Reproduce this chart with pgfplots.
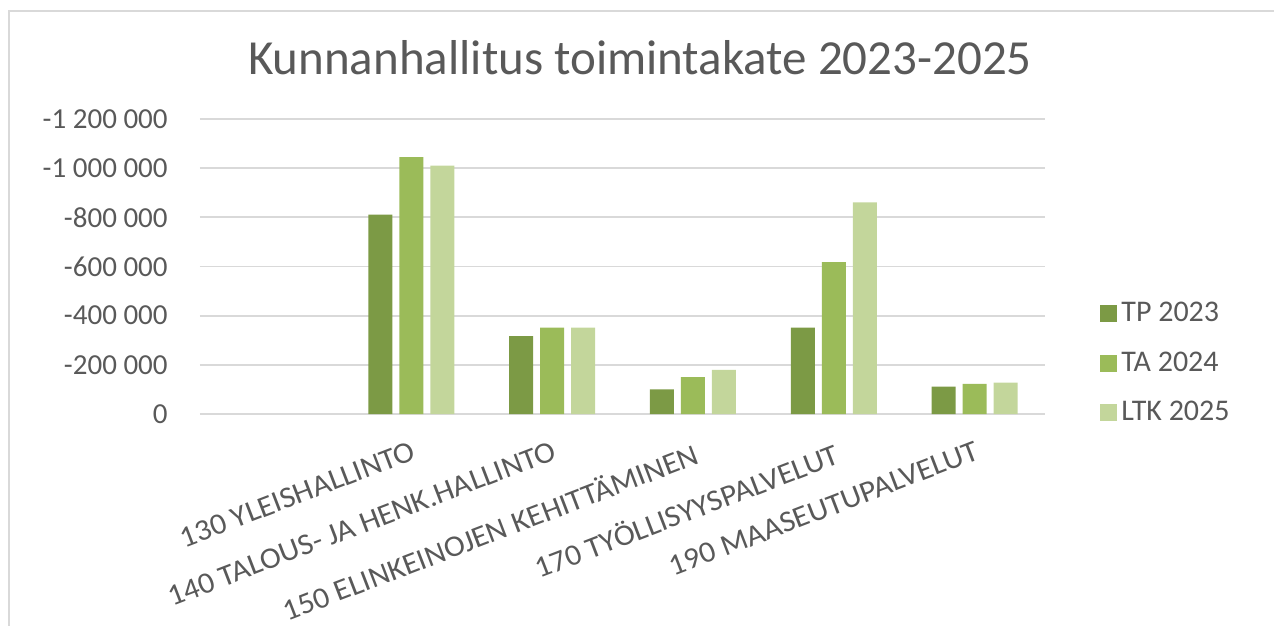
\documentclass[border=0pt]{standalone}
\usepackage{pgfplots}
\pgfplotsset{compat=1.18}
\usepackage{fontspec}
\setmainfont{Carlito}
\newfontfamily\xlab{Carlito}[FakeStretch=1.05]
\definecolor{tp}{HTML}{7C9A45}
\definecolor{ta}{HTML}{9BBB59}
\definecolor{ltk}{HTML}{C3D69B}
\definecolor{txt}{HTML}{595959}
\definecolor{grd}{HTML}{D9D9D9}
\begin{document}
\begin{tikzpicture}
\path[use as bounding box] (-100pt,-106pt) rectangle (537pt,207pt);
\draw[color=grd, line width=1pt] (-95.5pt,-106pt) -- (-95.5pt,201.5pt) -- (537pt,201.5pt);
\begin{axis}[
  scale only axis, width=422.5pt, height=147.5pt,
  at={(0,0)}, anchor=south west,
  ybar=3.5pt, bar width=12pt,
  xmin=-0.5, xmax=5.5,
  ymin=-1200000, ymax=0, y dir=reverse,
  scaled y ticks=false,
  axis line style={draw=none},
  major tick length=0pt,
  ymajorgrids, grid style={color=grd, line width=0.9pt},
  ytick={0,-200000,-400000,-600000,-800000,-1000000,-1200000},
  yticklabels={0,-200 000,-400 000,-600 000,-800 000,-1 000 000,-1 200 000},
  yticklabel style={font=\fontsize{14.5}{17}\selectfont, text=txt, anchor=east, inner sep=0pt, xshift=-16pt},
  xtick={1,2,3,4,5},
  xticklabels={130 YLEISHALLINTO,140 TALOUS- JA HENK.HALLINTO,150 ELINKEINOJEN KEHITTÄMINEN,170 TYÖLLISYYSPALVELUT,190 MAASEUTUPALVELUT},
  xticklabel style={font=\xlab\fontsize{15}{18}\selectfont, text=txt, rotate=21, anchor=north east, inner sep=0pt, xshift=-5pt, yshift=-12pt},
  legend style={draw=none, fill=none, at={(1,0)}, anchor=west, xshift=27.5pt, yshift=25.5pt,
    font=\fontsize{15}{18}\selectfont, text=txt, row sep=9.5pt, inner sep=0pt,
    /tikz/every even column/.append style={column sep=0pt}},
  legend cell align=left,
  legend image code/.code={\fill[#1] (0pt,-4.25pt) rectangle (8.5pt,4.25pt);},
]
\addplot[fill=tp, draw=none] coordinates {(1,-811000) (2,-317000) (3,-100000) (4,-351000) (5,-111000)};
\addplot[fill=ta, draw=none] coordinates {(1,-1045000) (2,-351000) (3,-150000) (4,-618000) (5,-123000)};
\addplot[fill=ltk, draw=none] coordinates {(1,-1010000) (2,-351000) (3,-180000) (4,-861000) (5,-128000)};
\legend{TP 2023,TA 2024,LTK 2025}
\end{axis}
\node[font=\fontsize{24.5}{29}\selectfont, text=txt] at (220pt,178pt) {Kunnanhallitus toimintakate 2023-2025};
\end{tikzpicture}
\end{document}
